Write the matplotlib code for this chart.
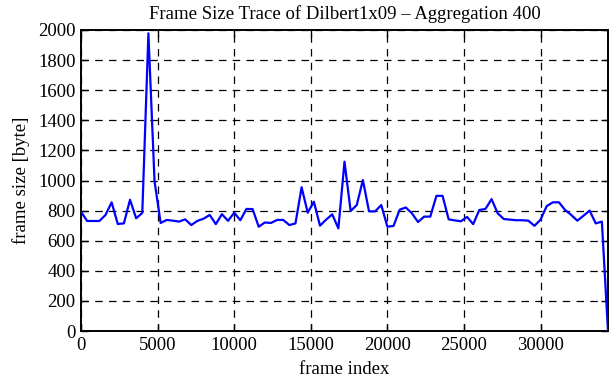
import matplotlib
matplotlib.use("Agg")
import matplotlib.pyplot as plt

frame_index = list(range(0, 34401, 400))
frame_size = [
    793, 731, 731, 731, 771, 855, 711, 715, 872, 749,
    784, 1978, 995, 718, 738, 733, 727, 742, 704, 732,
    746, 771, 710, 776, 732, 786, 736, 811, 810, 693,
    721, 718, 738, 738, 704, 715, 955, 786, 859, 700,
    740, 775, 682, 1125, 797, 837, 1003, 795, 795, 837,
    693, 698, 806, 821, 782, 724, 760, 760, 898, 898,
    742, 735, 729, 758, 710, 804, 811, 876, 782, 744,
    740, 736, 736, 733, 699, 740, 830, 855, 855, 804,
    771, 733, 766, 800, 715, 727, 0,
]
assert len(frame_index) == len(frame_size)

title = "Frame Size Trace of Dilbert1x09 – Aggregation 400"
xlabel = "frame index"
ylabel = "frame size [byte]"
xticks = [0, 5000, 10000, 15000, 20000, 25000, 30000]
yticks = list(range(0, 2001, 200))

plt.rcParams['font.family'] = ['Liberation Serif', 'DejaVu Serif']
fs = 13.5

fig = plt.figure(figsize=(6.11, 3.80), dpi=100)
ax = fig.add_axes([81/611, 49/380, 527/611, 301/380])
ax.plot(frame_index, frame_size, color=(0, 0, 1), linewidth=1.6, zorder=3)

ax.set_xlim(0, 34400)
ax.set_ylim(0, 2000)
ax.set_xticks(xticks)
ax.set_yticks(yticks)
ax.grid(True, color='black', linestyle=(0, (6, 5)), linewidth=0.9)
ax.tick_params(direction='in', length=5, width=1, top=True, right=True,
               labelsize=fs, pad=4, color='black')
for s in ax.spines.values():
    s.set_linewidth(1.4)
    s.set_color('black')

ax.set_title(title, fontsize=fs, pad=8)
ax.set_xlabel(xlabel, fontsize=fs, labelpad=5)
ax.set_ylabel(ylabel, fontsize=fs, labelpad=6)

fig.savefig("out.png", dpi=100)
